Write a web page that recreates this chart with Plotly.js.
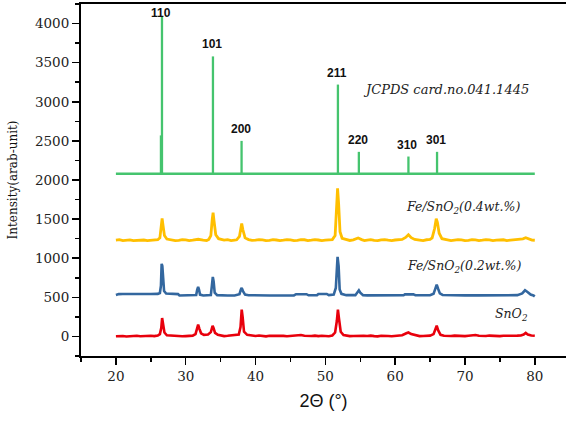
<!DOCTYPE html>
<html>
<head>
<meta charset="utf-8">
<script src="https://cdn.plot.ly/plotly-3.0.1.min.js"></script>
<style>html,body{margin:0;padding:0;background:#fff}#chart{width:566px;height:421px}</style>
</head>
<body>
<div id="chart"></div>
<script>
// JCPDS reference sticks
const jcpdsPos = [26.45, 26.6, 33.9, 38.0, 51.8, 54.8, 61.9, 66.0];
const jcpdsInt = [2570, 4090, 3580, 2500, 3220, 2360, 2300, 2360];
const jcpdsHkl = ['', '110', '101', '200', '211', '220', '310', '301'];
const jcpdsBase = 2080;
const jcpdsSpan = [20, 80];

// Measured patterns: [2theta, intensity]
const snO2 = [[20,3],[20.5,9],[21,6],[21.5,0],[22,2],[22.5,10],[23,8],[23.5,3],[24,5],[24.5,11],[25,9],[25.5,4],[26,12],[26.3,30],[26.5,110],[26.62,235],[26.75,150],[26.95,50],[27.3,15],[28,8],[28.5,12],[29,6],[29.5,2],[30,4],[30.5,11],[31,10],[31.4,30],[31.6,90],[31.78,150],[31.95,100],[32.2,40],[32.6,20],[33.2,25],[33.6,55],[33.85,137],[33.98,110],[34.2,45],[34.6,20],[35,10],[35.5,4],[36,8],[36.5,13],[37,12],[37.6,25],[37.85,120],[38.02,342],[38.15,250],[38.35,60],[38.8,20],[39.5,10],[40,6],[40.5,12],[41,5],[41.5,1],[42,8],[42.5,10],[43,4],[43.5,9],[44,7],[44.5,2],[45,5],[45.5,11],[46,10],[46.5,18],[47,8],[47.5,3],[48,6],[48.5,10],[49,4],[49.5,9],[50,7],[50.5,3],[51,12],[51.4,50],[51.65,200],[51.8,342],[51.95,230],[52.2,60],[52.6,18],[53,10],[53.5,4],[54,6],[54.8,12],[55.5,8],[56,5],[56.5,10],[57,4],[57.5,1],[58,8],[58.5,11],[59,5],[59.5,2],[60,7],[60.5,10],[61,15],[61.6,40],[61.9,50],[62.3,30],[63,10],[63.5,4],[64,6],[64.5,11],[65,10],[65.5,30],[65.8,100],[65.95,137],[66.15,80],[66.5,20],[67,8],[67.5,3],[68,5],[68.5,10],[69,7],[69.5,2],[70,4],[70.5,9],[71,10],[71.5,18],[72,8],[72.5,3],[73,5],[73.5,11],[74,6],[74.5,1],[75,4],[75.5,9],[76,8],[76.5,3],[77,5],[77.5,10],[78,12],[78.4,25],[78.7,45],[79,25],[79.5,12],[80,8]];

const fe02 = [[20,530],[20.4,541],[21,542],[22,540],[23,542],[24,541],[25,542],[26,544],[26.3,555],[26.45,650],[26.55,928],[26.65,900],[26.75,700],[26.9,580],[27.2,548],[28,542],[28.9,541],[29.1,524],[30,523],[31,523],[31.5,530],[31.65,600],[31.78,633],[31.9,600],[32.05,535],[32.5,524],[33,524],[33.6,530],[33.75,650],[33.88,761],[34,700],[34.15,560],[34.5,528],[35,524],[36,524],[37,524],[37.7,540],[37.9,600],[38.02,620],[38.2,580],[38.5,535],[39,527],[40,524],[42,524],[44,524],[45.5,525],[45.8,540],[47.3,540],[47.6,526],[48.8,526],[49,543],[50.2,543],[50.5,528],[51.2,535],[51.5,620],[51.65,900],[51.75,1018],[51.9,900],[52.05,600],[52.3,545],[53,528],[54.3,528],[54.6,560],[54.8,590],[55,560],[55.4,528],[56,525],[58,524],[60,524],[61.2,526],[61.4,538],[62.6,538],[62.9,527],[64,525],[65,527],[65.5,545],[65.8,620],[65.95,663],[66.15,610],[66.4,550],[66.8,530],[68,526],[70,525],[72,525],[74,526],[76,526],[77.5,528],[78.2,550],[78.6,590],[79,565],[79.4,535],[79.8,525],[80,512]];

const fe04 = [[20,1232],[20.5,1238],[21,1226],[21.5,1230],[22,1235],[22.5,1224],[23,1228],[23.5,1237],[24,1233],[24.5,1226],[25,1229],[25.5,1238],[26,1236],[26.3,1260],[26.5,1380],[26.62,1510],[26.75,1420],[26.95,1290],[27.3,1245],[28,1232],[28.5,1224],[29,1228],[29.5,1237],[30,1235],[30.5,1226],[31,1230],[31.8,1242],[32.5,1232],[33,1226],[33.3,1240],[33.6,1290],[33.8,1500],[33.92,1582],[34.05,1480],[34.3,1300],[34.7,1250],[35.5,1232],[36,1238],[36.5,1226],[37,1232],[37.3,1236],[37.7,1280],[37.92,1420],[38.02,1445],[38.2,1360],[38.5,1260],[39,1238],[39.5,1228],[40,1230],[40.5,1238],[41,1235],[41.5,1225],[42,1228],[42.5,1237],[43,1233],[43.5,1226],[44,1230],[44.5,1238],[45,1234],[45.5,1225],[46,1229],[46.5,1238],[47,1236],[47.5,1226],[48,1230],[48.5,1237],[49,1233],[49.5,1225],[50,1231],[50.5,1238],[51,1238],[51.4,1290],[51.6,1600],[51.75,1894],[51.9,1700],[52.1,1340],[52.4,1255],[53,1236],[53.5,1227],[54,1235],[54.7,1258],[55.2,1238],[55.6,1226],[56,1231],[56.5,1238],[57,1228],[57.5,1224],[58,1234],[58.5,1238],[59,1230],[59.5,1225],[60,1233],[60.5,1236],[61,1240],[61.5,1265],[61.9,1300],[62.3,1262],[62.8,1240],[63.5,1232],[64,1226],[64.5,1236],[65,1240],[65.3,1260],[65.65,1380],[65.88,1505],[66.05,1460],[66.3,1320],[66.7,1250],[67.5,1236],[68,1226],[68.5,1232],[69,1238],[69.5,1234],[70,1225],[70.5,1229],[71,1237],[71.5,1235],[72,1226],[72.5,1230],[73,1238],[73.5,1234],[74,1225],[74.5,1231],[75,1237],[75.5,1236],[76,1226],[76.5,1230],[77,1238],[77.5,1234],[78,1240],[78.3,1248],[78.7,1262],[79.1,1244],[79.6,1232],[80,1230]];

const seriesNames = ['SnO<sub>2</sub>', 'Fe/SnO<sub>2</sub>(0.2wt.%)', 'Fe/SnO<sub>2</sub>(0.4wt.%)'];
const labelPos = [[76.6, 278], [69.85, 893], [69.7, 1650]];
const cardText = 'JCPDS card.no.041.1445';
const cardPos = [67.3, 3154];

const colors = {green:'#45C46E', red:'#E8000C', blue:'#33679F', yellow:'#FFBF00'};
const SERIF = 'DejaVu Serif';
const SANS = 'Liberation Sans';

// build stick trace
const stickX = [], stickY = [];
jcpdsPos.forEach((p, i) => { stickX.push(p, p, null); stickY.push(jcpdsBase, jcpdsInt[i], null); });

const traces = [
  {x: snO2.map(d=>d[0]), y: snO2.map(d=>d[1]), mode:'lines', line:{color:colors.red, width:2.6}},
  {x: fe02.map(d=>d[0]), y: fe02.map(d=>d[1]), mode:'lines', line:{color:colors.blue, width:2.6}},
  {x: fe04.map(d=>d[0]), y: fe04.map(d=>d[1]), mode:'lines', line:{color:colors.yellow, width:2.8}},
  {x: jcpdsSpan, y: [jcpdsBase, jcpdsBase], mode:'lines', line:{color:colors.green, width:2.6}},
  {x: stickX, y: stickY, mode:'lines', line:{color:colors.green, width:2.3}}
];

const annotations = [];
jcpdsPos.forEach((p, i) => {
  if (!jcpdsHkl[i]) return;
  annotations.push({x:p, y:jcpdsInt[i], xref:'x', yref:'y', text:'<b>'+jcpdsHkl[i]+'</b>', showarrow:false,
    yanchor:'middle', xanchor:'center', xshift:-1, yshift: jcpdsHkl[i]==='110' ? 4 : 12,
    font:{family:SANS, size:12, color:'#111'}});
});
seriesNames.forEach((n, i) => {
  annotations.push({x:labelPos[i][0], y:labelPos[i][1], xref:'x', yref:'y', text:'<i>'+n+'</i>', showarrow:false,
    xanchor:'center', yanchor:'middle', font:{family:SERIF, size:12.5, color:'#222'}});
});
annotations.push({x:cardPos[0], y:cardPos[1], xref:'x', yref:'y', text:'<i>'+cardText+'</i>', showarrow:false,
  xanchor:'center', yanchor:'middle', font:{family:SERIF, size:13, color:'#222'}});

const layout = {
  width:566, height:421,
  margin:{l:81, r:0, t:4, b:65},
  paper_bgcolor:'#fff', plot_bgcolor:'#fff',
  showlegend:false,
  xaxis:{
    range:[15, 84.47], tickmode:'linear', tick0:0, dtick:10,
    ticks:'outside', ticklen:7, tickwidth:1.5, tickcolor:'#000',
    minor:{dtick:5, ticks:'outside', ticklen:4, tickwidth:1.5, tickcolor:'#000'},
    showline:true, linecolor:'#000', linewidth:2, mirror:true, showgrid:false, zeroline:false,
    tickfont:{family:SERIF, size:13.5, color:'#222'},
    title:{text:'2Θ (°)', standoff:11, font:{family:SANS, size:18, color:'#111'}}
  },
  yaxis:{
    range:[-250, 4250], tickmode:'linear', tick0:0, dtick:500,
    ticks:'outside', ticklen:7, tickwidth:1.5, tickcolor:'#000',
    minor:{dtick:250, ticks:'outside', ticklen:4, tickwidth:1.5, tickcolor:'#000'},
    showline:true, linecolor:'#000', linewidth:2, mirror:false, showgrid:false, zeroline:false,
    tickfont:{family:SERIF, size:13.5, color:'#222'},
    title:{text:'Intensity(arab-unit)', standoff:15, font:{family:SERIF, size:12, color:'#111'}}
  },
  annotations: annotations
};

Plotly.newPlot('chart', traces, layout, {displayModeBar:false, staticPlot:true});
</script>
</body>
</html>
